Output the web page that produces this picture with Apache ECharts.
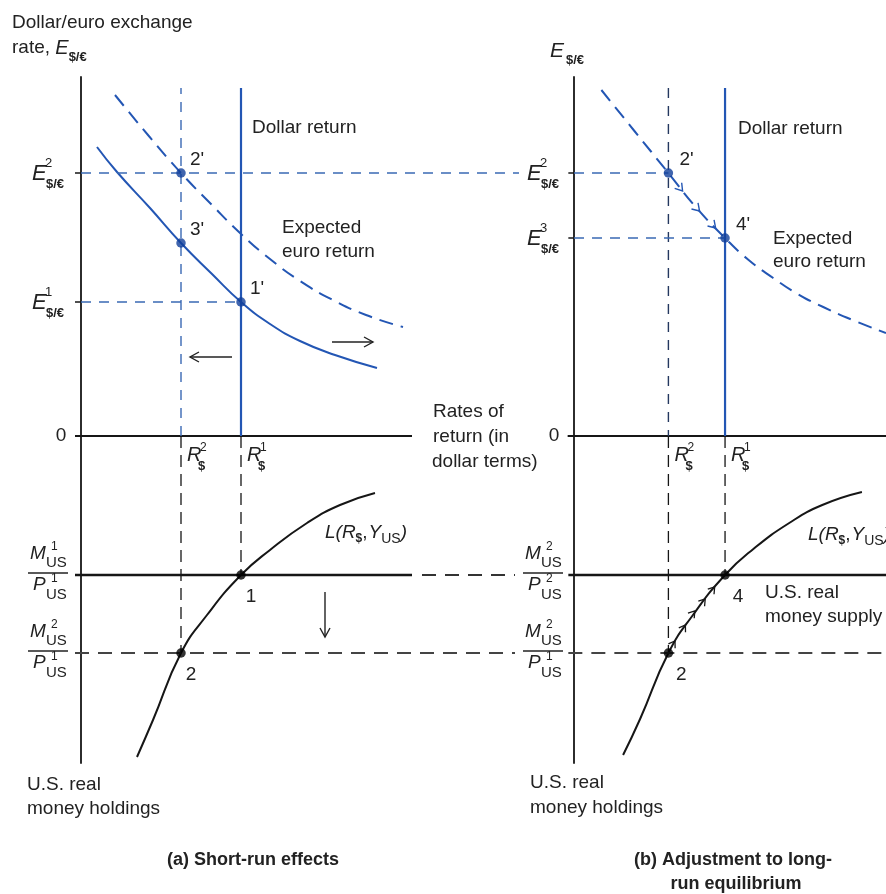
<!DOCTYPE html>
<html><head><meta charset="utf-8">
<script src="https://cdn.jsdelivr.net/npm/echarts@6/dist/echarts.min.js"></script>
<style>html,body{margin:0;padding:0;background:#fff}#c{width:886px;height:894px}</style>
</head><body><div id="c"></div>
<script>
// ---------------- data (abstract units: x = rate of return; y > 0 exchange rate; y < 0 real money, drawn downward)
const rateLevels   = [10, 16];            // R$^2, R$^1
const exchLevelsA  = [26.3, 19.3, 13.4];  // E^2, point 3', E^1   (panel a)
const exchLevelsB  = [26.3, 19.8];        // E^2, E^3              (panel b)
const moneyLevelsA = [-13.9, -21.7];      // M1/P1, M2/P1          (panel a)
const moneyLevelsB = [-13.9, -21.7];      // M2/P2, M2/P1          (panel b)
const lineTop = 34.8;                     // top of the vertical return lines
const axisEndA = 33.1;                    // right end of panel (a) horizontal axis
const connectorEnd = 43.8;                // dashed links from panel (a) toward panel (b)
const euroReturnA1 = [[1.6,28.9],[3.6,26.4],[6.9,22.8],[10,19.3],[13.1,16.2],[16,13.4],[18.9,11.2],[21.9,9.5],[25.4,8.1],[29.6,6.8]];
const euroReturnA2 = [[3.4,34.1],[6.7,30.1],[10,26.3],[13,23.2],[15.9,20.3],[18.9,17.7],[21.9,15.5],[25.2,13.6],[28.5,12.1],[32.2,10.9]];
const euroReturnB  = [[2.9,34.6],[6.4,30.5],[10,26.3],[12.9,22.9],[16,19.8],[18.5,17.6],[21.1,15.8],[23.7,14.2],[26.4,12.9],[29.5,11.6],[33.05,10.3]];
const demandA = [[5.6,-32.1],[7.2,-28.4],[10,-21.7],[12.6,-17.9],[16,-13.9],[18.9,-11.4],[22.6,-8.7],[25.9,-6.9],[29.4,-5.7]];
const demandB = [[5.2,-31.9],[7.0,-28.3],[10,-21.7],[12.6,-17.9],[16,-13.9],[19,-11.3],[22.8,-8.7],[26.3,-6.9],[30.5,-5.6]];
const shiftArrowsA = [[[15.1,7.9],[10.9,7.9]], [[25.1,9.4],[29.2,9.4]], [[24.4,-15.6],[24.4,-20.1]]];
const pathMarksBTop    = [[11.5,24.5],[13.3,22.5],[15.0,20.8]];
const pathMarksBBottom = [[10.7,-20.5],[11.8,-18.9],[12.8,-17.5],[13.9,-16.3],[14.9,-15.1]];

// ---------------- styles
const BLUE = '#2356b4', BLUE_DASH = '#3a69b4', DOT_BLUE = '#103e9a', INK = '#161616', TXT = '#222';
const FONT = '"Liberation Sans", Arial, sans-serif';

function seg(gi, data, color, width, dash, extra) {
  return Object.assign({
    type: 'line', xAxisIndex: gi, yAxisIndex: gi, data: data, symbol: 'none', showSymbol: false,
    silent: true, animation: false, clip: false, z: 3,
    lineStyle: { color: color, width: width, type: dash || 'solid', cap: 'butt' }
  }, extra || {});
}
function dots(gi, data, color) {
  return { type: 'scatter', xAxisIndex: gi, yAxisIndex: gi, data: data, symbolSize: 9.5,
    itemStyle: { color: color }, silent: true, animation: false, z: 6 };
}
function axisPair(gi, min, max, showX) {
  return {
    x: { gridIndex: gi, type: 'value', min: min, max: max,
      axisLine: { show: showX, onZero: true, lineStyle: { color: INK, width: 1.8 } },
      axisTick: { show: false }, axisLabel: { show: false }, splitLine: { show: false } },
    y: { gridIndex: gi, type: 'value', min: -32.7, max: 35.9,
      axisLine: { show: true, onZero: true, lineStyle: { color: INK, width: 1.8 } },
      axisTick: { show: false }, axisLabel: { show: false }, splitLine: { show: false } }
  };
}
const axA = axisPair(0, -0.6, 44.5, false), axB = axisPair(1, -0.6, 33.05, true);

const [R2, R1] = rateLevels;
const [E2a, P3a, E1a] = exchLevelsA;
const [E2b, E3b] = exchLevelsB;
const [MA1, MA2] = moneyLevelsA;
const [MB1, MB2] = moneyLevelsB;
const GD = [10, 8], CD = [14, 8], BD = [12, 7], MD = [14, 9];
const SMOOTH = { smooth: 0.5 };

const series = [
  // ---- panel (a), horizontal axis
  seg(0, [[-0.6, 0], [axisEndA, 0]], INK, 1.8),
  // ---- panel (a), top
  seg(0, euroReturnA1, BLUE, 2, 'solid', SMOOTH),
  seg(0, euroReturnA2, BLUE, 2, CD, SMOOTH),
  seg(0, [[R1, 0], [R1, lineTop]], BLUE, 2.2),
  seg(0, [[R2, 0], [R2, lineTop]], BLUE_DASH, 1.4, GD),
  seg(0, [[0, E2a], [connectorEnd, E2a]], BLUE_DASH, 1.4, GD),
  seg(0, [[0, E1a], [R1, E1a]], BLUE_DASH, 1.4, GD),
  seg(0, [[-0.6, E2a], [0, E2a]], INK, 1.5),
  seg(0, [[-0.6, E1a], [0, E1a]], INK, 1.5),
  // ---- panel (a), bottom
  seg(0, demandA, INK, 2, 'solid', SMOOTH),
  seg(0, [[R1, 0], [R1, MA1]], INK, 1.3, BD),
  seg(0, [[R2, 0], [R2, MA2]], INK, 1.3, BD),
  seg(0, [[-0.6, MA1], [axisEndA, MA1]], INK, 2.6),
  seg(0, [[axisEndA + 1, MA1], [connectorEnd - 0.4, MA1]], '#333', 1.8, MD),
  seg(0, [[-0.6, MA2], [connectorEnd - 0.4, MA2]], '#444', 2, MD),
  dots(0, [[R2, E2a], [R2, P3a], [R1, E1a]], DOT_BLUE),
  dots(0, [[R2, MA2], [R1, MA1]], '#000'),
  // ---- panel (b), top
  seg(1, euroReturnB, BLUE, 2, CD, SMOOTH),
  seg(1, [[R1, 0], [R1, lineTop]], BLUE, 2.2),
  seg(1, [[R2, lineTop], [R2, 0]], '#24385f', 1.4, GD),
  seg(1, [[0, E2b], [R2, E2b]], BLUE_DASH, 1.4, GD),
  seg(1, [[0, E3b], [R1, E3b]], BLUE_DASH, 1.4, GD),
  seg(1, [[-0.6, E2b], [0, E2b]], INK, 1.5),
  seg(1, [[-0.6, E3b], [0, E3b]], INK, 1.5),
  // ---- panel (b), bottom
  seg(1, demandB, INK, 2, 'solid', SMOOTH),
  seg(1, [[R1, 0], [R1, MB1]], INK, 1.3, BD),
  seg(1, [[R2, 0], [R2, MB2]], INK, 1.3, BD),
  seg(1, [[-0.6, MB1], [33.05, MB1]], INK, 2.6),
  seg(1, [[-0.6, MB2], [33.05, MB2]], '#444', 2, MD),
  dots(1, [[R2, E2b], [R1, E3b]], DOT_BLUE),
  dots(1, [[R2, MB2], [R1, MB1]], '#000')
];
// shift arrows (shafts)
shiftArrowsA.forEach(a => series.push(seg(0, a, '#222', 1.4)));

const option = {
  backgroundColor: '#fff',
  animation: false,
  grid: [
    { left: 75, top: 77, width: 451, height: 686, containLabel: false, outerBoundsMode: 'none' },
    { left: 568.34, top: 77, width: 317.66, height: 686, containLabel: false, outerBoundsMode: 'none' }
  ],
  xAxis: [axA.x, axB.x],
  yAxis: [axA.y, axB.y],
  series: series
};

const chart = echarts.init(document.getElementById('c'), null, { renderer: 'canvas' });
chart.setOption(option);

// ---------------- annotations
const px = (gi, p) => chart.convertToPixel({ gridIndex: gi }, p);
const mctx = document.createElement('canvas').getContext('2d');
function fontOf(k) { return (k.italic ? 'italic ' : '') + (k.bold ? 'bold ' : '') + (k.size || 19) + 'px ' + FONT; }
function txt(x, y, t, o) {
  o = o || {};
  return { type: 'text', x: x, y: y, silent: true, z: 20,
    style: { text: t, font: fontOf(o), fill: o.color || TXT,
      align: o.align || 'left', verticalAlign: 'middle',
      textAlign: o.align || 'left', textVerticalAlign: 'middle' } };
}
function run(x, y, tokens) {
  let cx = x; const out = [];
  tokens.forEach(k => {
    out.push(txt(cx, y + (k.dy || 0), k.t, k));
    mctx.font = fontOf(k);
    cx += mctx.measureText(k.t).width + (k.gap || 0);
  });
  return out;
}
function eLabel(ax, y, sup) {
  return [txt(ax - 49, y + 1, 'E', { italic: true, size: 22 }),
          txt(ax - 36, y - 10, sup, { size: 13 }),
          txt(ax - 35, y + 11, '$/€', { size: 13, bold: true })];
}
function rLabel(lx, y, sup) {
  return [txt(lx + 6, y, 'R', { italic: true, size: 20 }),
          txt(lx + 19, y - 7, sup, { size: 12 }),
          txt(lx + 17, y + 11, '$', { size: 13, bold: true })];
}
function frac(ax, y, s1, s2) {
  return [
    { type: 'line', silent: true, z: 20, shape: { x1: ax - 53, y1: y - 2, x2: ax - 13, y2: y - 2 }, style: { stroke: TXT, lineWidth: 1.3 } },
    txt(ax - 51, y - 21, 'M', { italic: true, size: 19 }),
    txt(ax - 30, y - 28, s1, { size: 12 }),
    txt(ax - 35, y - 12, 'US', { size: 15 }),
    txt(ax - 48, y + 10, 'P', { italic: true, size: 19 }),
    txt(ax - 30, y + 4, s2, { size: 12 }),
    txt(ax - 35, y + 20, 'US', { size: 15 })
  ];
}
function lLabel(x, y) {
  return run(x, y, [
    { t: 'L(', italic: true }, { t: 'R', italic: true }, { t: '$', size: 12, bold: true, dy: 6 },
    { t: ',', gap: 1 }, { t: 'Y', italic: true }, { t: 'US', size: 14, dy: 6 }, { t: ')', italic: true }
  ]);
}
function head(tip, d, L, W, color, lw) {
  const n = [-d[1], d[0]];
  return { type: 'polyline', silent: true, z: 15,
    shape: { points: [[tip[0] - L * d[0] + W * n[0], tip[1] - L * d[1] + W * n[1]], tip,
                      [tip[0] - L * d[0] - W * n[0], tip[1] - L * d[1] - W * n[1]]] },
    style: { stroke: color, lineWidth: lw, fill: null, lineCap: 'butt' } };
}
function unit(a, b) { const dx = b[0] - a[0], dy = b[1] - a[1], l = Math.hypot(dx, dy); return [dx / l, dy / l]; }
function curveDir(gi, curve, q) {
  let i = 0;
  while (i < curve.length - 2 && curve[i + 1][0] < q[0]) i++;
  return unit(px(gi, curve[i]), px(gi, curve[i + 1]));
}

const G = [];
const axA0 = px(0, [0, 0]), axB0 = px(1, [0, 0]);
const axXA = axA0[0], axXB = axB0[0], zeroY = axA0[1];

// titles / axis names
G.push(txt(12, 23, 'Dollar/euro exchange'));
G.push(...run(12, 48, [{ t: 'rate, ' }, { t: 'E', italic: true, size: 20, gap: 0 }, { t: '$/€', size: 13, bold: true, dy: 9 }]));
G.push(txt(axXB - 24, 51, 'E', { italic: true, size: 21 }));
G.push(txt(axXB - 8, 60, '$/€', { size: 13, bold: true }));
G.push(txt(axXA - 20, zeroY, '0', { align: 'center', size: 19 }));
G.push(txt(axXB - 20, zeroY, '0', { align: 'center', size: 19 }));
G.push(txt(433, 412, 'Rates of'));
G.push(txt(433, 437, 'return (in'));
G.push(txt(432, 462, 'dollar terms)'));

// panel (a) top labels
G.push(...eLabel(axXA, px(0, [0, E2a])[1], '2'));
G.push(...eLabel(axXA, px(0, [0, E1a])[1], '1'));
G.push(txt(px(0, [R1, 0])[0] + 11, 128, 'Dollar return'));
G.push(txt(282, 228, 'Expected'));
G.push(txt(282, 252, 'euro return'));
[[R2, E2a, "2'"], [R2, P3a, "3'"], [R1, E1a, "1'"]].forEach(([x, y, t]) => {
  const p = px(0, [x, y]); G.push(txt(p[0] + 9, p[1] - 13, t, { size: 19 }));
});
G.push(...rLabel(px(0, [R2, 0])[0], zeroY + 19, '2'));
G.push(...rLabel(px(0, [R1, 0])[0], zeroY + 19, '1'));

// panel (a) bottom labels
G.push(...frac(axXA, px(0, [0, MA1])[1], '1', '1'));
G.push(...frac(axXA, px(0, [0, MA2])[1], '2', '1'));
G.push(...lLabel(325, 533));
[[R1, MA1, '1'], [R2, MA2, '2']].forEach(([x, y, t]) => {
  const p = px(0, [x, y]); G.push(txt(p[0] + 10, p[1] + 22, t, { align: 'center', size: 19 }));
});
G.push(txt(27, 785, 'U.S. real'));
G.push(txt(27, 809, 'money holdings'));
G.push(txt(253, 860, '(a) Short-run effects', { bold: true, size: 18, align: 'center' }));

// panel (b) labels
G.push(...eLabel(axXB + 2, px(1, [0, E2b])[1], '2'));
G.push(...eLabel(axXB + 2, px(1, [0, E3b])[1], '3'));
G.push(txt(px(1, [R1, 0])[0] + 13, 129, 'Dollar return'));
G.push(txt(773, 239, 'Expected'));
G.push(txt(773, 262, 'euro return'));
[[R2, E2b, "2'"], [R1, E3b, "4'"]].forEach(([x, y, t]) => {
  const p = px(1, [x, y]); G.push(txt(p[0] + 11, p[1] - 13, t, { size: 19 }));
});
G.push(...rLabel(px(1, [R2, 0])[0], zeroY + 19, '2'));
G.push(...rLabel(px(1, [R1, 0])[0], zeroY + 19, '1'));
G.push(...frac(axXB + 2, px(1, [0, MB1])[1], '2', '2'));
G.push(...frac(axXB + 2, px(1, [0, MB2])[1], '2', '1'));
G.push(...lLabel(808, 535));
[[R1, MB1, '4'], [R2, MB2, '2']].forEach(([x, y, t]) => {
  const p = px(1, [x, y]); G.push(txt(p[0] + 13, p[1] + 22, t, { align: 'center', size: 19 }));
});
G.push(txt(765, 593, 'U.S. real'));
G.push(txt(765, 617, 'money supply'));
G.push(txt(530, 783, 'U.S. real'));
G.push(txt(530, 808, 'money holdings'));
G.push(txt(733, 860, '(b) Adjustment to long-', { bold: true, size: 18, align: 'center' }));
G.push(txt(736, 884, 'run equilibrium', { bold: true, size: 18, align: 'center' }));

// arrow heads for shift arrows
shiftArrowsA.forEach(a => {
  const p1 = px(0, a[0]), p2 = px(0, a[1]);
  G.push(head(p2, unit(p1, p2), 9, 5, '#222', 1.4));
});
// adjustment path marks along curves (panel b)
pathMarksBTop.forEach(q => G.push(head(px(1, q), curveDir(1, euroReturnB, q), 7, 4.5, BLUE, 1.4)));
pathMarksBBottom.forEach(q => G.push(head(px(1, q), curveDir(1, demandB, q), 6, 4, INK, 1.3)));

chart.setOption({ graphic: { elements: G } });
</script>
</body></html>
